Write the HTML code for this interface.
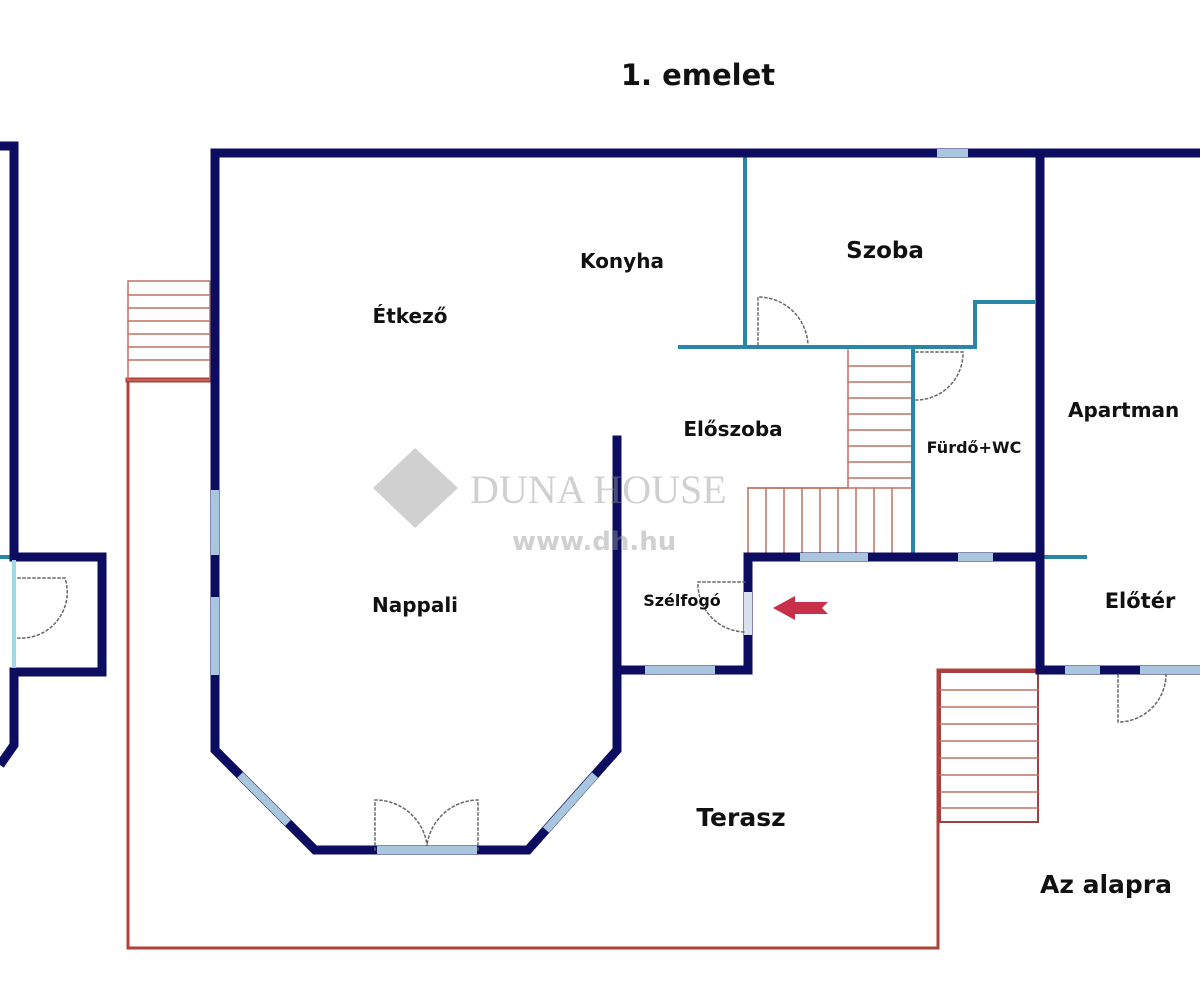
<!DOCTYPE html>
<html><head><meta charset="utf-8"><style>
html,body{margin:0;padding:0;background:#fff;width:1200px;height:1000px;overflow:hidden}
svg{display:block}
text{font-family:"DejaVu Sans","Liberation Sans",sans-serif;font-weight:bold;fill:#111}
</style></head><body>
<svg width="1200" height="1000" viewBox="0 0 1200 1000">
<g fill="none" stroke-linecap="square">
<!-- red terrace outline -->
<polyline points="128,382 128,948 938,948 938,670 1040,670" stroke="#b0403a" stroke-width="3"/>
<line x1="128" y1="380" x2="212" y2="380" stroke="#b0403a" stroke-width="5"/>
<!-- stairs -->
<g stroke="#c07060" stroke-width="1.5">
<rect x="128" y="281" width="82" height="99"/>
<line x1="128" y1="295" x2="210" y2="295"/><line x1="128" y1="308" x2="210" y2="308"/><line x1="128" y1="321" x2="210" y2="321"/><line x1="128" y1="334" x2="210" y2="334"/><line x1="128" y1="347" x2="210" y2="347"/><line x1="128" y1="360" x2="210" y2="360"/>
<polyline points="848,350 848,488 748,488 748,552"/>
<line x1="848" y1="366" x2="913" y2="366"/><line x1="848" y1="382" x2="913" y2="382"/><line x1="848" y1="398" x2="913" y2="398"/><line x1="848" y1="414" x2="913" y2="414"/><line x1="848" y1="430" x2="913" y2="430"/><line x1="848" y1="446" x2="913" y2="446"/><line x1="848" y1="462" x2="913" y2="462"/><line x1="848" y1="478" x2="913" y2="478"/>
<line x1="748" y1="488" x2="913" y2="488"/>
<line x1="766" y1="488" x2="766" y2="552"/><line x1="784" y1="488" x2="784" y2="552"/><line x1="802" y1="488" x2="802" y2="552"/><line x1="820" y1="488" x2="820" y2="552"/><line x1="838" y1="488" x2="838" y2="552"/><line x1="856" y1="488" x2="856" y2="552"/><line x1="874" y1="488" x2="874" y2="552"/><line x1="892" y1="488" x2="892" y2="552"/>
<rect x="940" y="672" width="98" height="150" stroke="#a04040" stroke-width="2"/>
<line x1="940" y1="690" x2="1038" y2="690"/><line x1="940" y1="707" x2="1038" y2="707"/><line x1="940" y1="724" x2="1038" y2="724"/><line x1="940" y1="741" x2="1038" y2="741"/><line x1="940" y1="758" x2="1038" y2="758"/><line x1="940" y1="775" x2="1038" y2="775"/><line x1="940" y1="792" x2="1038" y2="792"/><line x1="940" y1="808" x2="1038" y2="808"/>
</g>
<!-- teal walls -->
<g stroke="#2a86a6" stroke-width="4">
<line x1="745" y1="155" x2="745" y2="347"/>
<polyline points="680,347 975,347 975,302 1033,302"/>
<line x1="913" y1="347" x2="913" y2="552"/>
<line x1="1040" y1="557" x2="1085" y2="557"/>
<line x1="0" y1="557" x2="14" y2="557"/>
<line x1="14" y1="560" x2="14" y2="670"/>
</g>
<!-- navy walls -->
<g stroke="#0c0c60" stroke-width="9" stroke-linejoin="miter">
<polyline points="0,146 14,146 14,557" stroke-linecap="butt"/>
<polyline points="14,670 14,745 0,765" stroke-linecap="butt"/>
<polyline points="14,557 102,557 102,672 14,672"/>
<polyline points="1200,153 215,153 215,750 315,850 528,850 617,750 617,440" />
<polyline points="617,670 748,670 748,557 1040,557"/>
<line x1="1040" y1="153" x2="1040" y2="670"/>
<line x1="1040" y1="670" x2="1200" y2="670"/>
</g>
<line x1="617" y1="440" x2="617" y2="440" stroke="#0c0c60" stroke-width="9" stroke-linecap="round"/>
<!-- windows -->
<g stroke="#a9c6df" stroke-width="8" stroke-linecap="butt">
<line x1="937" y1="153" x2="968" y2="153"/>
<line x1="215" y1="490" x2="215" y2="555"/>
<line x1="215" y1="597" x2="215" y2="675"/>
<line x1="240" y1="775" x2="288" y2="823"/>
<line x1="546" y1="830" x2="595" y2="775"/>
<line x1="377" y1="850" x2="477" y2="850"/>
<line x1="645" y1="670" x2="715" y2="670"/>
<line x1="800" y1="557" x2="868" y2="557"/>
<line x1="958" y1="557" x2="993" y2="557"/>
<line x1="1065" y1="670" x2="1100" y2="670"/>
<line x1="1140" y1="670" x2="1200" y2="670"/>
<line x1="748" y1="592" x2="748" y2="635" stroke="#d8e0ee"/>
<line x1="14" y1="560" x2="14" y2="668" stroke="#9fd8e8" stroke-width="4"/>
</g>
<!-- doors -->
<g stroke="#666" stroke-width="1.5" stroke-dasharray="2,3">
<path d="M758,345 V297 A50,50 0 0 1 808,345"/>
<path d="M916,352 H963 A47,47 0 0 1 916,400"/>
<path d="M745,582 H698 A48,48 0 0 0 745,632"/>
<path d="M18,578 H65 A46,46 0 0 1 18,638"/>
<path d="M375,850 V800 A52,52 0 0 1 427,845"/>
<path d="M478,850 V800 A52,52 0 0 0 427,845"/>
<path d="M1118,675 V722 A48,48 0 0 0 1166,675"/>
</g>
</g>
<!-- arrow -->
<polygon points="773,608 795,596 795,602 828,602 822,608 828,614 795,614 795,620" fill="#c8304a"/>
<!-- watermark -->
<g opacity="0.45">
<polygon points="415,448 458,488 415,528 373,488" fill="#999"/>
<text x="470" y="503" font-family="Liberation Serif,serif" font-size="40" style="fill:#999;font-family:'Liberation Serif',serif;font-weight:normal">DUNA HOUSE</text>
<text x="512" y="550" font-size="26" style="fill:#999">www.dh.hu</text>
</g>
<!-- labels -->
<text x="698" y="85" font-size="29" text-anchor="middle">1. emelet</text>
<text x="622" y="268" font-size="20" text-anchor="middle">Konyha</text>
<text x="885" y="258" font-size="23" text-anchor="middle">Szoba</text>
<text x="410" y="323" font-size="20" text-anchor="middle">Étkező</text>
<text x="733" y="436" font-size="20" text-anchor="middle">Előszoba</text>
<text x="974" y="453" font-size="16" text-anchor="middle">Fürdő+WC</text>
<text x="1068" y="417" font-size="20">Apartman</text>
<text x="415" y="612" font-size="20" text-anchor="middle">Nappali</text>
<text x="682" y="606" font-size="16" text-anchor="middle">Szélfogó</text>
<text x="1140" y="608" font-size="21" text-anchor="middle">Előtér</text>
<text x="741" y="826" font-size="25" text-anchor="middle">Terasz</text>
<text x="1040" y="893" font-size="25">Az alapra</text>
</svg>
</body></html>
